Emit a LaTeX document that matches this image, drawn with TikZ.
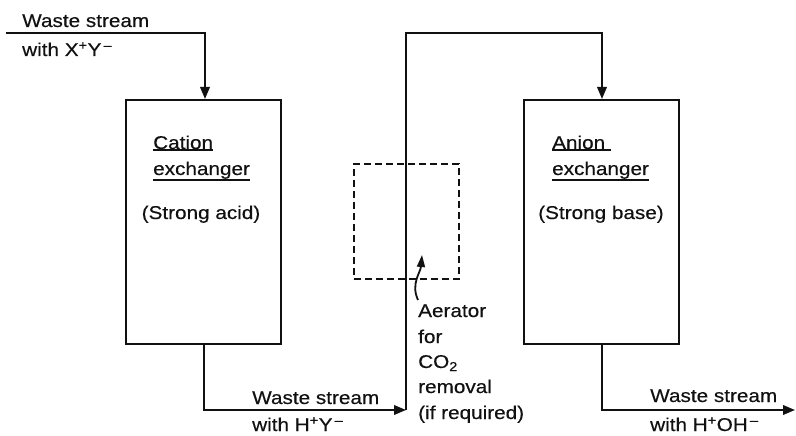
\documentclass[tikz,border=0pt]{standalone}
\usepackage{fontspec}
\setmainfont{Liberation Sans}[FakeStretch=1.12,FakeBold=0.4]
\usetikzlibrary{arrows.meta}
\definecolor{Ink}{HTML}{111111}
\newcommand\ulword[1]{\setbox0=\hbox{#1}\rlap{\rule[\dimexpr-\dp0-2pt\relax]{\wd0}{2pt}}\box0}
\tikzset{
  exchanger/.style={rectangle,draw=Ink,line width=2pt,anchor=north west,
    minimum width=155,minimum height=244,inner sep=0pt},
  aerator/.style={rectangle,draw=Ink,line width=2pt,dash pattern=on 7pt off 4pt,
    anchor=north west,minimum width=105,minimum height=115,inner sep=0pt},
  stream/.style={-{Triangle[length=12pt,width=9.5pt]},draw=Ink,line width=2pt},
  pointer/.style={-{Triangle[length=12pt,width=8pt]},draw=Ink,line width=1.8pt},
  tag/.style={font=\fontsize{18.5}{25}\selectfont,text=Ink,inner sep=0pt,anchor=base west}
}
\begin{document}
\begin{tikzpicture}[x=1pt,y=-1pt]
  \useasboundingbox (0,0) rectangle (796,436);
  \node[exchanger] (cation) at (125,99) {};
  \node[exchanger] (anion) at (523,99) {};
  \node[aerator] (aer) at (353,163) {};
  % box texts
  \node[tag] (catname) at (153,149) {\ulword{Cation}};
  \node[tag] (catkind) at (153,175) {\ulword{exchanger}};
  \node[tag,anchor=base] (catres) at (201,219) {(Strong acid)};
  \node[tag] (anname) at (552,149) {\ulword{Anion\ }};
  \node[tag] (ankind) at (552,175) {\ulword{exchanger}};
  \node[tag,anchor=base] (anres) at (601,219) {(Strong base)};
  % stream corners
  \coordinate (feed) at (6,33);
  \coordinate (feedturn) at (205,33);
  \coordinate (catdrop) at (204,410);
  \coordinate (riser) at (406,410);
  \coordinate (crossover) at (406,33);
  \coordinate (anturn) at (602,33);
  \coordinate (androp) at (602,410);
  \coordinate (outlet) at (795,410);
  \draw[stream] (feed) -- (feedturn) -- (feedturn |- cation.north);
  \draw[stream] (catdrop |- cation.south) -- (catdrop) -- (riser);
  \draw[stream] (riser) -- (crossover) -- (anturn) -- (anturn |- anion.north);
  \draw[stream] (androp |- anion.south) -- (androp) -- (outlet);
  % stream labels
  \node[tag] (feedname) at (22,27) {Waste stream};
  \node[tag] (feedion) at (22,56) {with X\textsuperscript{+}Y\textsuperscript{\,–}};
  \node[tag] (midname) at (252,404) {Waste stream};
  \node[tag] (midion) at (252,431) {with H\textsuperscript{+}Y\textsuperscript{\,–}};
  \node[tag] (outname) at (650,402) {Waste stream};
  \node[tag] (oution) at (650,431) {with H\textsuperscript{+}OH\textsuperscript{\,–}};
  % aerator note
  \node[tag] (aerline1) at (418,317) {Aerator};
  \node[tag] (aerline2) at (418,343) {for};
  \node[tag] (aerline3) at (418,368) {CO\textsubscript{2}};
  \node[tag] (aerline4) at (418,393) {removal};
  \node[tag] (aerline5) at (418,419) {(if required)};
  \coordinate (ptail) at (418,300);
  \coordinate (ptip) at (422,255);
  \draw[pointer] (ptail) to[out=115,in=-95] (ptip);
\end{tikzpicture}
\end{document}
